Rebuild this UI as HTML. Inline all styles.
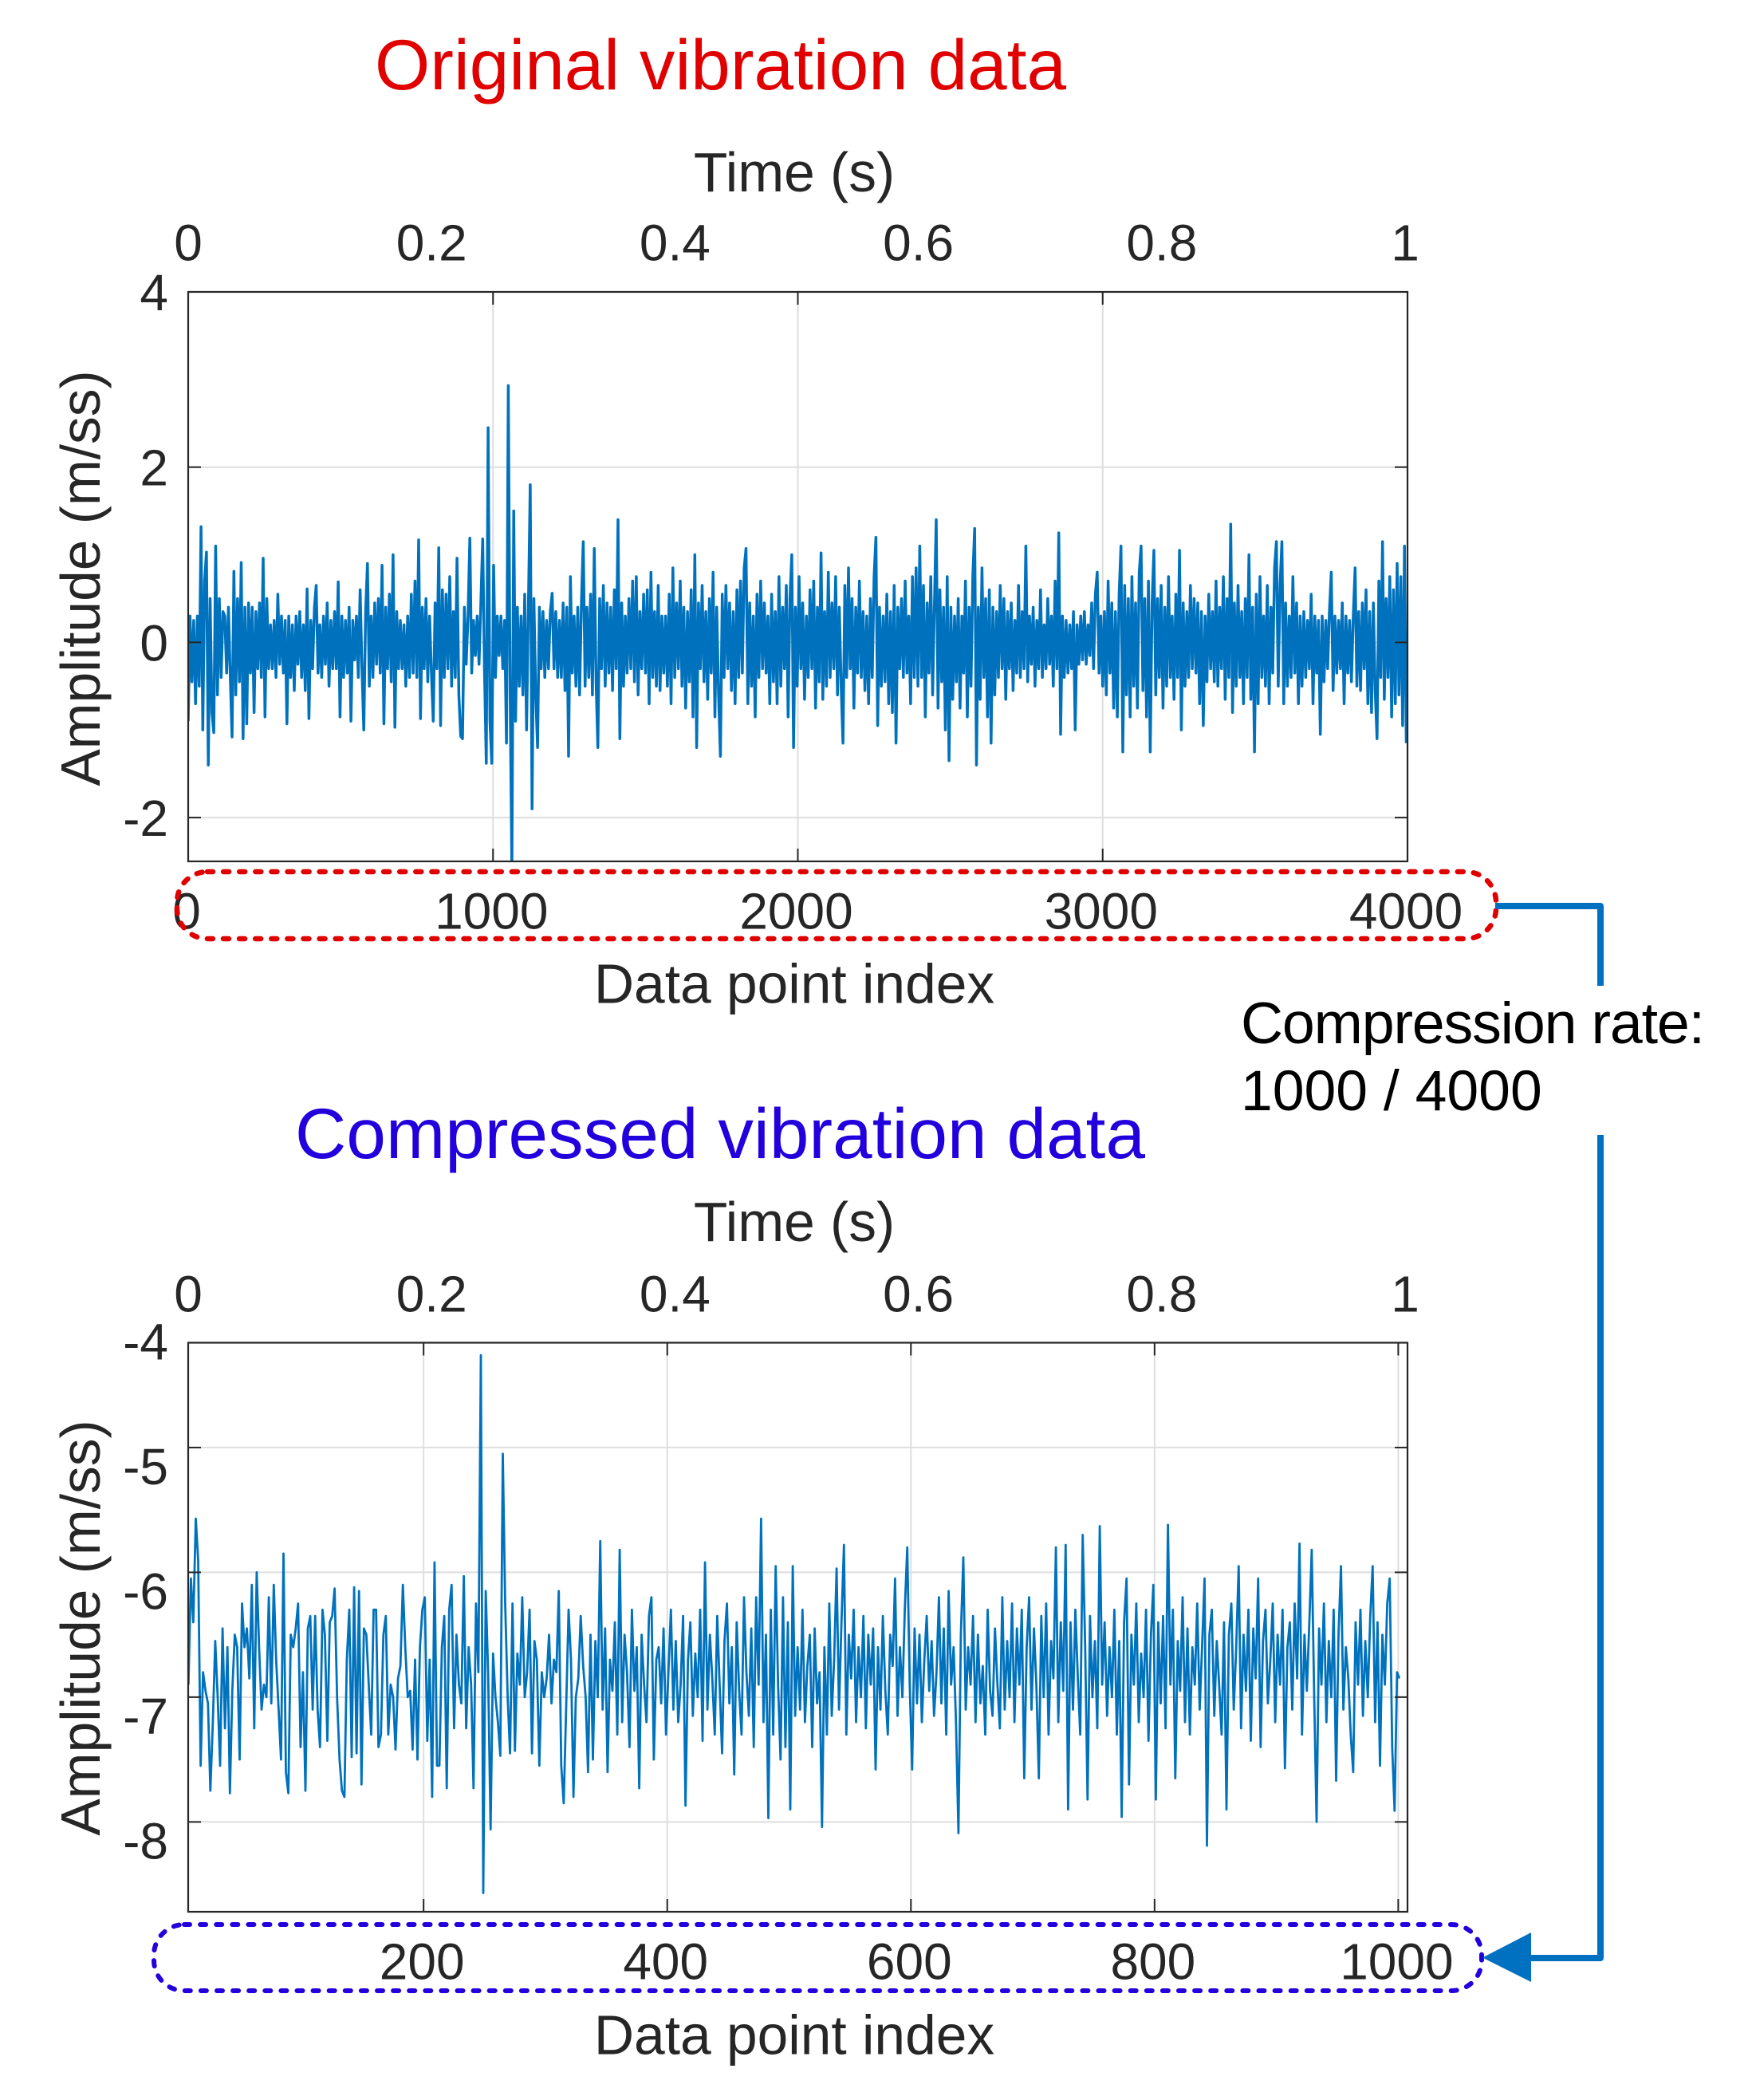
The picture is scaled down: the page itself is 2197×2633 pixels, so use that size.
<!DOCTYPE html>
<html lang="en">
<head>
<meta charset="utf-8">
<title>Original and compressed vibration data</title>
<style>
html,body{margin:0;padding:0;background:#fff;}
svg{display:block;}
text{font-family:"Liberation Sans",Arial,sans-serif;fill:#262626;}
</style>
</head>
<body>
<svg id="figure" xmlns="http://www.w3.org/2000/svg" width="2197" height="2633" viewBox="0 0 2197 2633">
  <rect x="0" y="0" width="2197" height="2633" fill="#ffffff"/>
  <text x="470" y="112" font-size="89" textLength="867" style="fill:#e00000">Original vibration data</text>
  <text x="370" y="1452" font-size="89" textLength="1066" style="fill:#2200dd">Compressed vibration data</text>
  <g id="chart-top"></g>
  <g id="chart-bottom"></g>
  <rect x="222" y="1093" width="1654" height="84" rx="38" ry="38" fill="none" stroke="#e00000" stroke-width="6.5" stroke-linecap="round" stroke-dasharray="7 13.1"/>
  <rect x="193" y="2413" width="1665" height="83" rx="38" ry="38" fill="none" stroke="#2200dd" stroke-width="6" stroke-linecap="round" stroke-dasharray="7 13.1"/>
  <path d="M1875 1136H2007V1236" fill="none" stroke="#0070c0" stroke-width="8" stroke-linejoin="round"/>
  <path d="M2007 1423V2455H1915" fill="none" stroke="#0070c0" stroke-width="8" stroke-linejoin="round"/>
  <polygon points="1859,2454.5 1920,2423 1920,2485" fill="#0070c0"/>
  <text x="1556" y="1308" font-size="73.5" textLength="582" style="fill:#000">Compression rate:</text>
  <text x="1556" y="1392" font-size="71.5" style="fill:#000">1000 / 4000</text>
</svg>
<script>
/* ---------- chart data ---------- */
const topYTicks = [4, 2, 0, -2];
const topIndexTicks = [0, 1000, 2000, 3000, 4000];
const timeTicks = [0, 0.2, 0.4, 0.6, 0.8, 1];
const bottomYTicks = [-4, -5, -6, -7, -8];
const bottomIndexTicks = [200, 400, 600, 800, 1000];

const originalAmplitude = [
-.9,.3,-.45,.25,-.7,.3,-.5,1.32,-1,.7,1.03,-1.4,.5,-.8,-1.03,1.1,-.6,.5,-.4,.35,
.3,-.35,.4,-.4,-1.08,.81,-.6,.5,-.45,.91,-1.1,.4,-.93,.45,-.35,.4,-.8,.35,-.3,.45,
-.4,.96,-.85,.5,-.3,.2,-.3,.25,-.4,.55,-.25,.3,-.35,.25,-.93,.3,-.4,.2,-.55,.3,
-.25,.35,-.4,.2,-.55,.61,-.87,.25,-.3,.4,.65,-.35,.2,-.4,.3,-.25,.45,-.5,.25,-.3,
.35,-.3,.69,-.85,.3,-.4,.25,-.35,.4,-.9,.25,-.2,.3,-.4,.6,-.3,-1,.35,.9,-.5,
.3,-.4,.45,-.25,.5,-.35,.88,-.93,.4,-.3,.55,-.45,1,-.97,.35,-.3,.25,-.3,.2,-.5,
.3,-.4,.55,-.35,.7,-.4,1.17,-.87,.4,-.3,.5,-.45,.3,-.35,-.9,.45,-.3,1.08,-.95,.6,
-.4,.55,-.3,.75,-.5,.35,-.4,.96,-.6,-1.07,-1.1,.4,-.25,.3,1.19,-.35,.25,-.15,.3,-.25,
.45,1.18,-.3,-1.38,2.45,-.9,-1.38,.88,-.4,.3,-.15,.3,-.3,.25,-1.15,2.93,-.6,-2.6,1.5,-.9,
.4,-.5,.3,-.6,.55,-1,.4,1.8,-1.9,.5,-.6,-1.2,.4,-.3,.35,-.4,.25,-.3,.35,.56,
-.3,.35,-.4,.25,-.4,.45,-.55,.4,-1.3,.75,-.35,.3,-.5,.4,-.6,.45,1.15,-.5,.4,-.4,
.55,-.6,1.07,-.45,-1.2,.5,-.3,.65,-.5,.45,-.35,.4,-.55,.6,-.3,1.4,-1.1,.45,-.5,.3,
-.35,.5,-.3,.7,-.45,.75,-.6,.35,-.3,.55,-.35,.6,-.7,.8,-.4,.35,-.5,.65,-.55,.3,
-.35,.3,-.5,.55,-.7,.85,-.4,.45,-.3,.7,-.5,.4,-.75,.35,-.45,.6,-.85,1,-1.2,.45,
-.3,.65,-.45,.35,-.65,.5,-.35,.8,-.85,.4,-.6,-1.3,.55,-.4,.65,-.3,.45,-.55,.35,-.7,
.6,-.4,.7,-.35,.85,1.07,-.7,.45,-.5,.3,-.85,.55,-.4,.7,-.3,.45,-.35,.3,-.7,.55,
-.45,.35,-.7,.75,-.5,.4,-.3,.65,-.85,.5,1,-1.2,.4,-.5,.75,-.3,.45,-.65,.3,-.4,
.6,-.3,.7,-.75,.4,-.45,1.02,-.65,.35,-.5,.8,-.4,.45,-.3,.75,-.6,.4,-.5,-1.15,.65,
-.4,.85,-.3,.5,-.75,.4,-.35,.7,-.4,.35,-.55,.3,-.7,.5,-.4,.75,1.2,-.95,.4,-.5,
.3,-.45,.55,-.7,.35,-.8,.65,-1.15,.4,-.3,.5,-.4,.7,-.35,.3,-.7,.75,-.4,.85,-.5,
1.1,-.4,.65,-.85,.45,-.35,.75,-.6,.4,1.4,-.75,.6,-.45,.4,-1,.75,-1.35,.4,-.65,.3,
-.45,.5,-.75,.3,-.35,.7,-.85,.4,-.5,.75,1.3,-1.4,.4,-.65,.85,-.4,.5,-.85,.6,-1.15,
.4,-.6,.35,-.4,.65,-.3,.5,-.65,.35,-.3,.45,-.55,.25,-.35,.65,-.4,.35,-.3,1.1,-.45,
.3,-.25,.4,-.5,.25,-.3,.6,-.4,.2,-.3,.5,-.25,.3,-.5,.7,-.3,1.25,-1.05,.3,-.4,
.25,-.35,.2,-.3,.35,-1,.2,-.25,.3,-.2,.35,-.25,.2,-.15,.45,-.3,.55,.8,-.35,.3,
-.5,.35,-.6,.7,-.35,.45,-.75,.35,-.85,.55,1.1,-1.25,.65,-.6,.5,-.85,.75,-.5,.45,-.75,
.8,1.1,-.55,.5,-.85,.7,-1.25,.45,1.05,-.6,.5,-.4,.65,-.75,.4,-.5,.75,-.4,.3,-.65,
.55,-.4,1.05,-1,.45,-.5,.35,-.4,.65,-.3,.5,-.35,.45,-.7,.35,-.95,.3,-.45,.55,-.3,
.35,-.45,.7,-.5,.4,-.3,.75,-.65,.5,-.4,1.35,-.8,.45,-.5,.65,-.4,.35,-.7,.5,-.4,
1,-.65,.4,-1.25,.55,-.7,.75,-.4,.3,-.5,.65,-.7,.4,-.35,.85,1.15,-.5,.65,1.15,-.7,
.45,-.5,.3,-.4,.75,-.35,.45,-.7,.3,-.5,.35,-.4,.25,-.3,.55,-.7,.3,-.35,.25,-1.05,
.3,-.45,.25,-.3,.35,.8,-.55,.3,-.35,.25,-.3,.45,-.7,.3,-.35,.25,-.45,.3,.85,-.5,
.35,-.55,.45,-.3,.6,-.7,.35,-.8,.45,-.55,-1.1,.7,-.4,1.15,-.65,.5,-.4,.75,-.85,.6,
-.7,.9,-.6,.75,-.95,1.1,-1.15
];

const compressedAmplitude = [
-6.9,-6.05,-6.4,-5.57,-5.9,-7.55,-6.8,-6.95,-7.05,-7.75,-7.2,-6.55,-7,-7.55,-6.45,-7.25,-6.6,-7.77,-6.95,-6.5,
-6.6,-7.5,-6.25,-6.6,-6.45,-6.85,-6.1,-7.25,-6,-6.6,-7.1,-6.9,-7,-6.2,-7.05,-6.1,-6.7,-7.1,-7.5,-5.85,
-7.6,-7.77,-6.5,-6.6,-6.45,-6.25,-7.4,-6.8,-7.75,-6.45,-6.35,-7.1,-6.35,-7.1,-7.4,-6.3,-6.5,-7.35,-6.4,-6.35,
-6.13,-7,-7.5,-7.75,-7.8,-6.7,-6.3,-7.48,-6.12,-7.45,-6.15,-7.7,-6.45,-6.5,-6.9,-7.3,-6.3,-6.3,-7.4,-7.3,
-6.5,-6.35,-7.3,-6.9,-7,-7.42,-6.85,-6.75,-6.1,-6.6,-7,-6.95,-7.42,-6.7,-7.5,-6.6,-6.3,-6.2,-7.35,-6.7,
-7.8,-5.92,-7.55,-7.55,-6.6,-6.35,-7.73,-6.3,-6.1,-7.25,-6.5,-6.9,-7.05,-6.03,-7.25,-6.6,-6.9,-7.73,-6.25,-6.8,
-4.26,-8.57,-6.15,-6.8,-8.06,-6.65,-7,-7.2,-7.47,-5.05,-6.25,-7,-7.45,-6.25,-7.43,-6.65,-6.9,-6.2,-7,-6.8,
-6.3,-7.45,-6.55,-6.7,-7.55,-6.8,-7,-6.85,-6.5,-7.05,-6.7,-6.8,-6.15,-7.55,-7.85,-7.1,-6.3,-6.7,-7.8,-7,
-6.85,-6.35,-6.75,-7,-7.6,-6.5,-7.5,-6.55,-7,-5.75,-7.1,-6.45,-7.6,-6.7,-6.95,-6.4,-7.3,-5.82,-7.2,-6.5,
-6.8,-7.4,-6.3,-6.95,-6.6,-7.73,-6.5,-6.9,-7.2,-6.35,-6.2,-7.5,-6.7,-6.6,-7.05,-6.45,-7.3,-6.8,-6.3,-7.1,
-6.55,-7.2,-6.9,-6.35,-7.87,-6.7,-6.4,-7.15,-6.65,-7,-6.3,-7.35,-5.92,-7.1,-6.5,-6.85,-7.3,-6.35,-6.9,-7.45,
-6.55,-6.25,-7.05,-6.6,-7.62,-6.4,-6.95,-7.3,-6.2,-6.8,-7.15,-6.45,-7.4,-6.2,-6.9,-5.57,-7.2,-6.5,-7.97,-6.3,
-7.3,-5.95,-6.9,-7.5,-6.2,-7.4,-6.4,-7.9,-5.95,-7.15,-6.6,-7.1,-6.3,-7.2,-6.75,-6.5,-7.4,-6.45,-7.05,-6.8,
-8.04,-6.6,-7.3,-6.25,-7.15,-6.7,-5.97,-7.1,-6.4,-5.78,-7.3,-6.5,-6.85,-6.3,-7.2,-6.6,-7,-6.35,-7.25,-6.5,
-6.9,-6.45,-7.58,-6.6,-7.1,-6.35,-6.95,-7.3,-6.5,-6.75,-6.05,-7.15,-6.6,-7,-6.3,-5.8,-6.9,-7.58,-6.45,-7.05,
-6.5,-7.2,-6.7,-6.35,-6.95,-6.55,-7.15,-6.8,-6.2,-7.05,-6.45,-7.3,-6.15,-6.9,-6.6,-7.2,-8.09,-6.5,-5.88,-7.1,
-6.6,-6.9,-6.35,-7.2,-6.5,-7.05,-6.75,-7.3,-6.3,-6.95,-7.15,-6.45,-6.9,-7.25,-6.2,-7.1,-6.55,-7,-6.25,-7.2,
-6.45,-6.9,-6.3,-7.65,-6.6,-6.2,-7.1,-6.45,-6.9,-7.65,-6.35,-7,-6.25,-7.3,-6.55,-6.85,-5.8,-7.2,-6.4,-6.95,
-5.78,-7.9,-6.4,-7.1,-6.3,-6.85,-7.3,-5.7,-6.6,-7.82,-6.35,-7,-6.55,-7.25,-5.63,-6.9,-6.4,-7.15,-6.6,-7,
-6.3,-7.3,-6.55,-7.96,-6.4,-6.05,-7.7,-6.5,-6.9,-6.25,-7.2,-6.65,-7,-6.3,-7.35,-6.5,-6.1,-7.82,-6.4,-7.05,
-6.35,-7.25,-5.62,-6.9,-6.3,-7.65,-6.55,-6.95,-6.2,-7.2,-6.45,-7.3,-6.6,-6.9,-6.25,-7.1,-6.6,-6.05,-8.19,-6.5,
-6.3,-7.15,-6.55,-6.9,-7.3,-6.4,-7.9,-6.5,-6.25,-7.1,-6.6,-5.95,-7.25,-6.5,-6.95,-6.3,-7.35,-6.45,-6.85,-6.05,
-7.4,-6.55,-6.3,-7.05,-6.7,-6.25,-7.2,-6.5,-6.9,-6.3,-7.57,-6.6,-6.4,-7.1,-6.25,-6.85,-5.77,-7.3,-6.5,-6.95,
-6.4,-5.82,-7,-8,-6.45,-6.9,-6.25,-7.2,-6.55,-7,-6.3,-7.67,-6.5,-5.95,-7.1,-6.6,-6.85,-7.3,-7.6,-6.4,
-6.9,-6.3,-7.15,-6.55,-7,-6.35,-5.95,-7.2,-6.4,-7.55,-6.5,-6.9,-6.25,-6.05,-7.4,-7.91,-6.8,-6.85
];

/* ---------- drawing ---------- */
const NS = 'http://www.w3.org/2000/svg';
const PLOT_LEFT = 236, PLOT_RIGHT = 1765, TIME_SPAN = 1526;

function make(parent, tag, attrs, txt) {
  const el = document.createElementNS(NS, tag);
  for (const k in attrs) el.setAttribute(k, attrs[k]);
  if (txt !== undefined) el.textContent = txt;
  parent.appendChild(el);
  return el;
}

function drawChart(c) {
  const g = document.getElementById(c.groupId);
  const top = c.plotTop, bottom = c.plotBottom;
  const x = v => PLOT_LEFT + (v - c.xMin) / (c.xMax - c.xMin) * (PLOT_RIGHT - PLOT_LEFT);
  const y = v => top + (c.yMax - v) / (c.yMax - c.yMin) * (bottom - top);
  const TICK = 16;

  // grid
  c.xTicks.forEach(v => {
    const line = make(g, 'line', {x1: x(v), x2: x(v), y1: top, y2: bottom, stroke: '#dedede', 'stroke-width': 2});
    
    
  });
  c.yGridTicks.forEach(v => {
    const line = make(g, 'line', {x1: PLOT_LEFT, x2: PLOT_RIGHT, y1: y(v), y2: y(v), stroke: '#dedede', 'stroke-width': 2});
    
    
  });

  // series
  const clipId = c.groupId + '-clip';
  const defs = make(g, 'defs', {});
  const clip = make(defs, 'clipPath', {id: clipId});
  make(clip, 'rect', {x: PLOT_LEFT, y: top, width: PLOT_RIGHT - PLOT_LEFT, height: bottom - top});
  const pts = c.values.map((v, i) => x(c.firstIndex + i * c.indexStep).toFixed(1) + ',' + y(v).toFixed(1)).join(' ');
  const series = make(g, 'polyline', {points: pts, fill: 'none', stroke: '#0072bd', 'stroke-width': c.lineWidth, 'stroke-linejoin': 'round', 'clip-path': 'url(#' + clipId + ')'});
  
  

  // ticks
  c.xTicks.forEach(v => {
    const t1 = make(g, 'line', {x1: x(v), x2: x(v), y1: bottom, y2: bottom - TICK, stroke: '#262626', 'stroke-width': 2});
    
    
    const t2 = make(g, 'line', {x1: x(v), x2: x(v), y1: top, y2: top + TICK, stroke: '#262626', 'stroke-width': 2});
    
    
  });
  c.yGridTicks.forEach(v => {
    const t1 = make(g, 'line', {x1: PLOT_LEFT, x2: PLOT_LEFT + TICK, y1: y(v), y2: y(v), stroke: '#262626', 'stroke-width': 2});
    
    
    const t2 = make(g, 'line', {x1: PLOT_RIGHT, x2: PLOT_RIGHT - TICK, y1: y(v), y2: y(v), stroke: '#262626', 'stroke-width': 2});
    
    
  });

  // frame
  const frame = make(g, 'rect', {x: PLOT_LEFT, y: top, width: PLOT_RIGHT - PLOT_LEFT, height: bottom - top, fill: 'none', stroke: '#262626', 'stroke-width': 2.2});
  
  

  // labels
  c.yLabelTicks.forEach(v => {
    const t = make(g, 'text', {x: 211, y: y(v) + c.yLabelDrop, 'text-anchor': 'end', 'font-size': 64}, String(v));
    
    
  });
  c.xTicks.forEach(v => {
    const t = make(g, 'text', {x: x(v) - 2, y: c.indexLabelY, 'text-anchor': 'middle', 'font-size': 64}, String(v));
    
    
  });
  timeTicks.forEach(v => {
    const t = make(g, 'text', {x: PLOT_LEFT + v * TIME_SPAN, y: c.timeLabelY, 'text-anchor': 'middle', 'font-size': 64}, String(v));
    
    
  });

  const tt = make(g, 'text', {x: 996, y: c.timeTitleY, 'text-anchor': 'middle', 'font-size': 69.5}, 'Time (s)');
  
  
  const xt = make(g, 'text', {x: 996, y: c.indexTitleY, 'text-anchor': 'middle', 'font-size': 69.5}, 'Data point index');
  
  
  const yt = make(g, 'text', {transform: 'translate(125,' + c.yTitleCenter + ') rotate(-90)', 'text-anchor': 'middle', 'font-size': 69.5}, 'Amplitude (m/ss)');
  
  
}

drawChart({
  groupId: 'chart-top', plotTop: 366, plotBottom: 1080,
  xMin: 0, xMax: 4000, yMin: -2.5, yMax: 4,
  values: originalAmplitude, firstIndex: 0, indexStep: 6, lineWidth: 3.5,
  xTicks: topIndexTicks, yGridTicks: [2, 0, -2], yLabelTicks: topYTicks, yLabelDrop: 23,
  indexLabelY: 1164.5, timeLabelY: 326.5, timeTitleY: 240, indexTitleY: 1257.5, yTitleCenter: 725
});
drawChart({
  groupId: 'chart-bottom', plotTop: 1683.5, plotBottom: 2397,
  xMin: 6.8, xMax: 1007.6, yMin: -8.72, yMax: -4.16,
  values: compressedAmplitude, firstIndex: 7, indexStep: 2, lineWidth: 2.8,
  xTicks: bottomIndexTicks, yGridTicks: [-5, -6, -7, -8], yLabelTicks: bottomYTicks, yLabelDrop: 46,
  indexLabelY: 2481.5, timeLabelY: 1644.5, timeTitleY: 1556, indexTitleY: 2575.5, yTitleCenter: 2041
});
</script>
</body>
</html>
